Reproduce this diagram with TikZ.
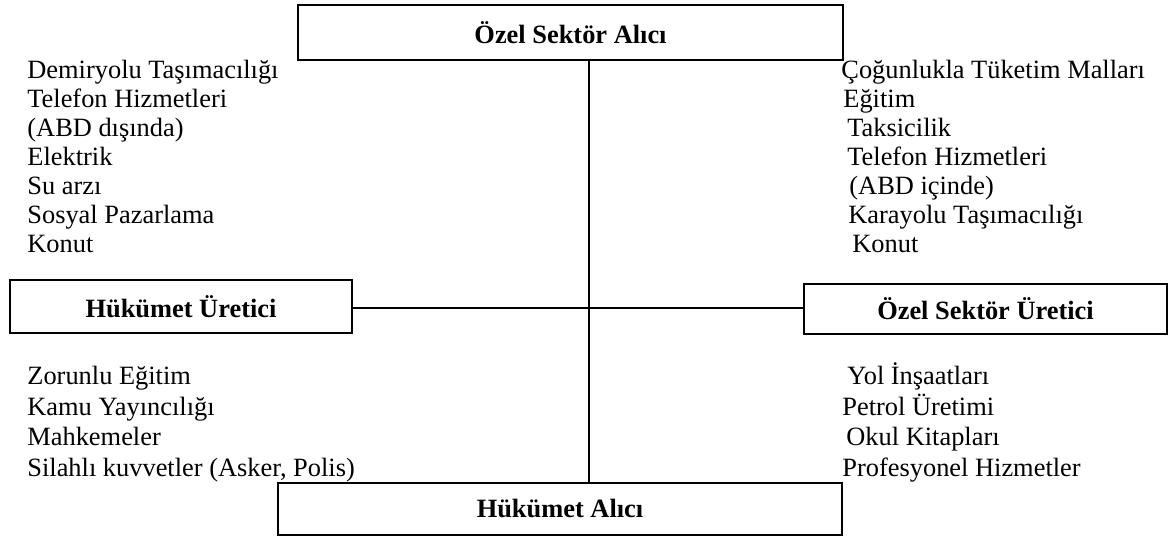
\documentclass[tikz,border=0pt]{standalone}
\usepackage{fontspec}
\setmainfont{Liberation Serif}
\begin{document}
\begin{tikzpicture}[x=0.5pt,y=-0.5pt,
  box/.style={draw,line width=0.75pt,inner sep=0pt,font=\fontsize{13.2}{15}\selectfont\bfseries},
  item/.style={anchor=base west,inner sep=0pt,font=\fontsize{13.2}{15}\selectfont},
  link/.style={line width=0.75pt}]
\useasboundingbox (0,0) rectangle (1169,539);
% boxes
\node[box,minimum width=272.5pt,minimum height=27.5pt] (top) at (570.5,32.5) {Özel Sektör Alıcı};
\node[box,minimum width=171pt,minimum height=26.5pt] (left) at (181,306.5) {Hükümet Üretici};
\node[box,minimum width=181.5pt,minimum height=25pt] (right) at (985.5,309) {Özel Sektör Üretici};
\node[box,minimum width=282pt,minimum height=26pt] (bottom) at (560,509) {Hükümet Alıcı};
\coordinate (hub) at (589,308);
\draw[link] (top.south -| hub) -- (bottom.north -| hub);
\draw[link] (left.east |- hub) -- (right.west |- hub);
% upper left
\node[item] (ul1) at (27,79) {Demiryolu Taşımacılığı};
\node[item] (ul2) at (27,108) {Telefon Hizmetleri};
\node[item] (ul3) at (27,137) {(ABD dışında)};
\node[item] (ul4) at (27,166) {Elektrik};
\node[item] (ul5) at (27,195) {Su arzı};
\node[item] (ul6) at (27,224) {Sosyal Pazarlama};
\node[item] (ul7) at (27,253) {Konut};
% upper right
\node[item] (ur1) at (841,79) {Çoğunlukla Tüketim Malları};
\node[item] (ur2) at (843,108) {Eğitim};
\node[item] (ur3) at (847,137) {Taksicilik};
\node[item] (ur4) at (847,166) {Telefon Hizmetleri};
\node[item] (ur5) at (849,195) {(ABD içinde)};
\node[item] (ur6) at (848,224) {Karayolu Taşımacılığı};
\node[item] (ur7) at (852,253) {Konut};
% lower left
\node[item] (ll1) at (27,385) {Zorunlu Eğitim};
\node[item] (ll2) at (27,416) {Kamu Yayıncılığı};
\node[item] (ll3) at (27,446) {Mahkemeler};
\node[item] (ll4) at (27,477) {Silahlı kuvvetler (Asker, Polis)};
% lower right
\node[item] (lr1) at (847,385) {Yol İnşaatları};
\node[item] (lr2) at (842,416) {Petrol Üretimi};
\node[item] (lr3) at (846,446) {Okul Kitapları};
\node[item] (lr4) at (842,477) {Profesyonel Hizmetler};
\end{tikzpicture}
\end{document}
